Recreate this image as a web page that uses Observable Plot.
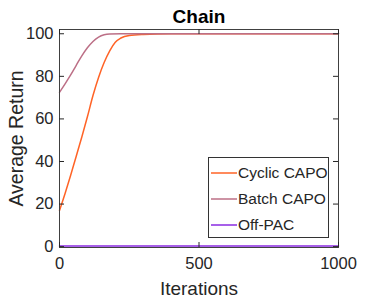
<!DOCTYPE html>
<html>
<head>
<meta charset="utf-8">
<script src="https://cdn.jsdelivr.net/npm/d3@7"></script>
<script src="https://cdn.jsdelivr.net/npm/@observablehq/plot@0.6"></script>
<style>
  body { margin: 0; background: #fff; }
  #wrap { position: relative; width: 374px; height: 299px; font-family: "Liberation Sans", Arial, sans-serif; }
  #legend { position: absolute; left: 208px; top: 157px; width: 119px; height: 79px; border: 1px solid #333; background: #fff; }
  .row { position: absolute; left: 0; height: 20px; display: flex; align-items: center; font-size: 15.5px; color: #262626; }
  .row svg { display: block; margin-left: 2px; margin-right: 1px; }
</style>
</head>
<body>
<div id="wrap"></div>
<script>
// Data
const cyclicIter = [0, 20, 40, 60, 80, 100, 120, 140, 160, 180, 200, 220, 250, 300, 400, 1000];
const cyclicVal  = [17, 25, 33.5, 42.5, 51.5, 61, 71, 79.5, 86.5, 92, 96, 98, 99.2, 99.7, 100, 100];
const batchIter  = [0, 20, 40, 60, 80, 100, 120, 140, 160, 180, 220, 1000];
const batchVal   = [72.5, 76.5, 80.7, 85.2, 89.6, 93.4, 96.4, 98.4, 99.5, 99.9, 100, 100];
const offpacIter = [0, 1000];
const offpacVal  = [0.3, 0.3];
const seriesNames = ["Cyclic CAPO", "Batch CAPO", "Off-PAC"];
const seriesColors = ["#ff6326", "#bc6f86", "#8a2be2"];
const xTicks = [0, 500, 1000];
const yTicks = [0, 20, 40, 60, 80, 100];

const toRows = (xs, ys, name) => xs.map((x, i) => ({x, y: ys[i], name}));
const cyclic = toRows(cyclicIter, cyclicVal, seriesNames[0]);
const batch = toRows(batchIter, batchVal, seriesNames[1]);
const offpac = toRows(offpacIter, offpacVal, seriesNames[2]);

const W = 374, H = 299;
const mL = 59, mR = 36, mT = 29, mB = 52;
const plotH = H - mT - mB, plotW = W - mL - mR;

const chart = Plot.plot({
  width: W, height: H,
  marginLeft: mL, marginRight: mR, marginTop: mT, marginBottom: mB,
  style: {fontFamily: "Liberation Sans, Arial, sans-serif", color: "#262626", background: "#fff"},
  x: {domain: [0, 1000]},
  y: {domain: [-0.4, 102]},
  marks: [
    Plot.line(offpac, {x: "x", y: "y", stroke: seriesColors[2], strokeWidth: 1.5}),
    Plot.line(cyclic, {x: "x", y: "y", stroke: seriesColors[0], strokeWidth: 1.5, curve: "monotone-x"}),
    Plot.line(batch, {x: "x", y: "y", stroke: seriesColors[1], strokeWidth: 1.5, curve: "monotone-x"}),
    Plot.frame({stroke: "#404040", strokeWidth: 1}),
    Plot.tickY(yTicks, {y: d => d, insetRight: plotW - 5, stroke: "#262626"}),
    Plot.tickY(yTicks, {y: d => d, insetLeft: plotW - 5, stroke: "#262626"}),
    Plot.tickX(xTicks, {x: d => d, insetTop: plotH - 5, stroke: "#262626"}),
    Plot.tickX(xTicks, {x: d => d, insetBottom: plotH - 5, stroke: "#262626"}),
    Plot.axisY(yTicks, {tickSize: 0, tickPadding: 6, fontSize: 16.5, label: null, tickFormat: d => String(d)}),
    Plot.axisX(xTicks, {tickSize: 0, tickPadding: 10, fontSize: 16.5, label: null, tickFormat: d => String(d)}),
    Plot.text(["Chain"], {frameAnchor: "top", dy: -7, lineAnchor: "bottom", textAnchor: "middle", fontSize: 19, fontWeight: "bold", fill: "#000"}),
    Plot.text(["Iterations"], {frameAnchor: "bottom", dy: 47, lineAnchor: "bottom", textAnchor: "middle", fontSize: 19, fill: "#262626"}),
    Plot.text(["Average Return"], {frameAnchor: "left", dx: -37, rotate: -90, lineAnchor: "bottom", textAnchor: "middle", fontSize: 19.5, fill: "#262626"})
  ]
});

const wrap = document.getElementById("wrap");
wrap.appendChild(chart);

// Legend
const legend = document.createElement("div");
legend.id = "legend";
const rowTops = [5, 31, 57];
seriesNames.forEach((name, i) => {
  const row = document.createElement("div");
  row.className = "row";
  row.style.top = rowTops[i] + "px";
  row.innerHTML = `<svg width="26" height="4"><line x1="0" y1="2" x2="26" y2="2" stroke="${seriesColors[i]}" stroke-width="1.5"/></svg><span>${name}</span>`;
  legend.appendChild(row);
});
wrap.appendChild(legend);
</script>
</body>
</html>
